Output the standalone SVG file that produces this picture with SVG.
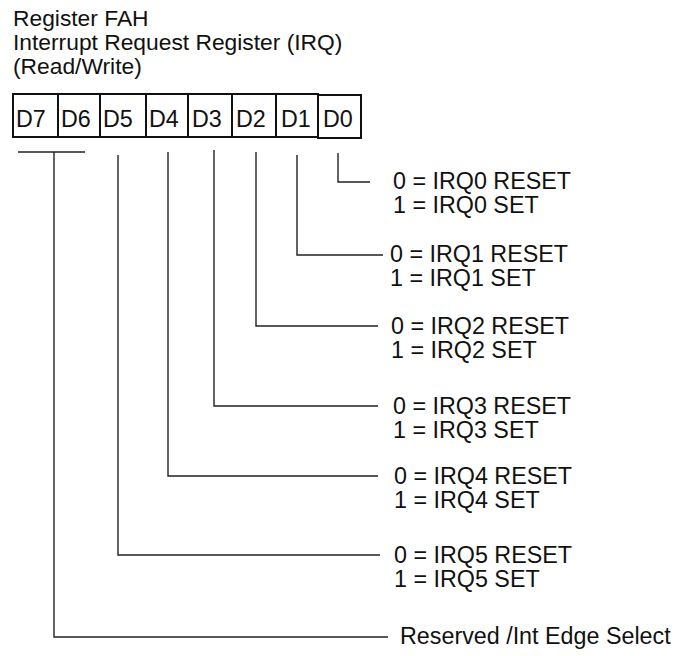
<svg xmlns="http://www.w3.org/2000/svg" width="680" height="656" viewBox="0 0 680 656">
<style>
text{font-family:"Liberation Sans",Arial,sans-serif;font-size:23.3px;fill:#111}
.hd{font-size:22.8px}
.box{fill:#fff;stroke:#111;stroke-width:2}
.ln{fill:none;stroke:#222;stroke-width:1.4}
</style>
<rect width="680" height="656" fill="#fff"/>
<g id="title">
<text class="hd" x="13" y="26">Register FAH</text>
<text class="hd" x="13" y="50">Interrupt Request Register (IRQ)</text>
<text class="hd" x="13" y="74">(Read/Write)</text>
</g>
<g id="D7"><rect class="box" x="13" y="94" width="45" height="43"/><text x="16" y="127">D7</text></g>
<g id="D6"><rect class="box" x="58" y="94" width="42" height="43"/><text x="61" y="127">D6</text></g>
<g id="D5"><rect class="box" x="100" y="94" width="46" height="43"/><text x="103" y="127">D5</text></g>
<g id="D4"><rect class="box" x="146" y="94" width="42" height="43"/><text x="149" y="127">D4</text></g>
<g id="D3"><rect class="box" x="188" y="94" width="44" height="43"/><text x="192" y="127">D3</text></g>
<g id="D2"><rect class="box" x="232" y="94" width="44" height="43"/><text x="236" y="127">D2</text></g>
<g id="D1"><rect class="box" x="276" y="94" width="42" height="43"/><text x="281" y="127">D1</text></g>
<g id="D0"><rect class="box" x="318" y="95" width="43" height="43"/><text x="323" y="127">D0</text></g>
<g id="connectors">
<path class="ln" d="M18 152H85"/>
<path class="ln" d="M54 152V637H388"/>
<path class="ln" d="M118 155V555H380"/>
<path class="ln" d="M168 152V476H378"/>
<path class="ln" d="M214 150V406H378"/>
<path class="ln" d="M256 152V326H378"/>
<path class="ln" d="M297 155V255H383"/>
<path class="ln" d="M338 153V182H370"/>
</g>
<g id="irq0"><text x="393" y="189">0 = IRQ0 RESET</text><text x="393" y="213">1 = IRQ0 SET</text></g>
<g id="irq1"><text x="390" y="262">0 = IRQ1 RESET</text><text x="390" y="286">1 = IRQ1 SET</text></g>
<g id="irq2"><text x="391" y="334">0 = IRQ2 RESET</text><text x="391" y="358">1 = IRQ2 SET</text></g>
<g id="irq3"><text x="393" y="414">0 = IRQ3 RESET</text><text x="393" y="438">1 = IRQ3 SET</text></g>
<g id="irq4"><text x="394" y="484">0 = IRQ4 RESET</text><text x="394" y="508">1 = IRQ4 SET</text></g>
<g id="irq5"><text x="394" y="563">0 = IRQ5 RESET</text><text x="394" y="587">1 = IRQ5 SET</text></g>
<g id="reserved"><text x="400" y="644">Reserved /Int Edge Select</text></g>
</svg>
